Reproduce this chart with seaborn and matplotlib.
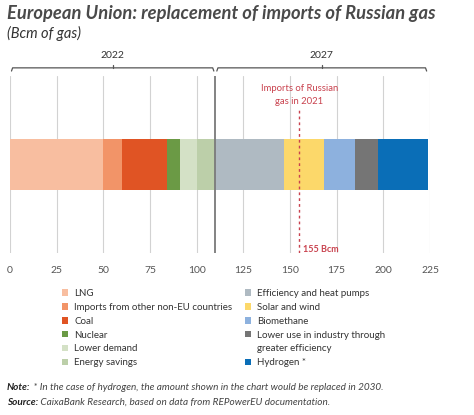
import matplotlib
matplotlib.use("Agg")
import matplotlib.pyplot as plt
from matplotlib.patches import Patch
import numpy as np
import seaborn as sns

# data (Bcm of gas)
categories = ["LNG", "Imports from other non-EU countries", "Coal", "Nuclear",
              "Lower demand", "Energy savings", "Efficiency and heat pumps",
              "Solar and wind", "Biomethane",
              "Lower use in industry through\ngreater efficiency", "Hydrogen *"]
values = [50, 10, 24, 7, 9, 10, 37, 21, 17, 12, 27]
periods = ["2022"] * 6 + ["2027"] * 5
colors = ["#f8bea0", "#f29468", "#e05424", "#6b9a45", "#d4e1c6", "#bccfa9",
          "#afbac2", "#fcd86a", "#8db1de", "#757575", "#0a6eb7"]
russian_imports_2021 = 155
x_ticks = list(range(0, 226, 25))

red = "#c9424e"
grey_text = "#4a4a4a"

sns.set_style("white")
plt.rcParams["font.family"] = ["Lato", "DejaVu Sans"]

fig = plt.figure(figsize=(4.74, 4.15), dpi=100)
ax = fig.add_axes([10 / 474, 1 - 253 / 415, 420 / 474, 177 / 415])

# stacked bar: draw cumulative totals from the largest down
cum = np.cumsum(values)
for i in range(len(values) - 1, -1, -1):
    sns.barplot(x=[cum[i]], y=["EU"], color=colors[i], width=0.29,
                orient="h", saturation=1, linewidth=0, ax=ax)

ax.set_xlim(0, 225)
ax.set_ylim(0.5, -0.5)
ax.set_xticks(x_ticks)
ax.set_yticks([])
ax.set_xlabel("")
ax.set_ylabel("")
ax.grid(axis="x", color="#d2d2d2", lw=0.8)
ax.set_axisbelow(True)
sns.despine(ax=ax, left=True, bottom=True)
ax.tick_params(axis="x", length=0, pad=9, labelsize=7.5, labelcolor="#555555")

# separation between the two periods
split = sum(v for v, p in zip(values, periods) if p == "2022")
ax.axvline(split, color="#7a7a7a", lw=1.3, zorder=3)

# brackets over each period
tr = ax.get_xaxis_transform()
starts = [0, split]
ends = [split, cum[-1]]
for lab, s, e in zip(["2022", "2027"], starts, ends):
    s2, e2 = s + 0.8, e - 0.8
    ax.plot([s2, s2 + 0.6, e2 - 0.6, e2], [1.028, 1.046, 1.046, 1.028],
            transform=tr, clip_on=False, color="#555555", lw=0.9)
    m = (s + e) / 2
    ax.plot([m, m], [1.046, 1.062], transform=tr, clip_on=False,
            color="#555555", lw=0.9)
    ax.text(m, 1.118, lab, transform=tr, ha="center", va="center",
            fontsize=7.5, color="#333333")

# Russian imports reference line
ax.plot([russian_imports_2021] * 2, [0, 0.82], transform=tr, color=red,
        lw=1, ls=(0, (2, 2.2)), zorder=4)
ax.text(russian_imports_2021, 0.893, "Imports of Russian\ngas in 2021",
        transform=tr, ha="center", va="center", fontsize=6.8, color=red,
        linespacing=1.45)
ax.text(russian_imports_2021 + 1.7, 0.02, f"{russian_imports_2021} Bcm",
        transform=tr, ha="left", va="center", fontsize=6.5, color=red,
        fontweight="bold")

# titles
fig.text(7 / 474, 1 - 13 / 415, "European Union: replacement of imports of Russian gas",
         ha="left", va="center", fontsize=13.2, fontweight="bold",
         style="italic", color=grey_text)
fig.text(7 / 474, 1 - 33 / 415, "(Bcm of gas)", ha="left", va="center",
         fontsize=10.5, style="italic", color="#333333")

# legend, two columns (second line of a long label gets an empty handle)
handles = [Patch(facecolor=c, edgecolor="none") for c in colors]
blank = Patch(facecolor="none", edgecolor="none")
labels1 = categories[:6]
handles1 = handles[:6]
labels2, handles2 = [], []
for lab, h in zip(categories[6:], handles[6:]):
    parts = lab.split("\n")
    labels2.append(parts[0])
    handles2.append(h)
    for extra in parts[1:]:
        labels2.append(extra)
        handles2.append(blank)
for hs, ls_, xpos in [(handles1, labels1, 62 / 474), (handles2, labels2, 245 / 474)]:
    fig.legend(hs, ls_, loc="upper left", bbox_to_anchor=(xpos, 1 - 289 / 415),
               bbox_transform=fig.transFigure, frameon=False, fontsize=7,
               handlelength=0.65, handleheight=0.65, handletextpad=0.6,
               labelspacing=0.5, borderpad=0, borderaxespad=0,
               labelcolor="#333333")

# notes
renderer = fig.canvas.get_renderer()
for y, head, rest in [(387, "Note:", " * In the case of hydrogen, the amount shown in the chart would be replaced in 2030."),
                      (402, "Source:", " CaixaBank Research, based on data from REPowerEU documentation.")]:
    t = fig.text(7 / 474, 1 - y / 415, head, ha="left", va="center", fontsize=7.2,
                 fontweight="bold", style="italic", color="#222222")
    bb = t.get_window_extent(renderer)
    fig.text(bb.x1 / fig.bbox.width, 1 - y / 415, rest, ha="left", va="center",
             fontsize=7.2, style="italic", color="#444444")

fig.savefig("out.png", dpi=100)
